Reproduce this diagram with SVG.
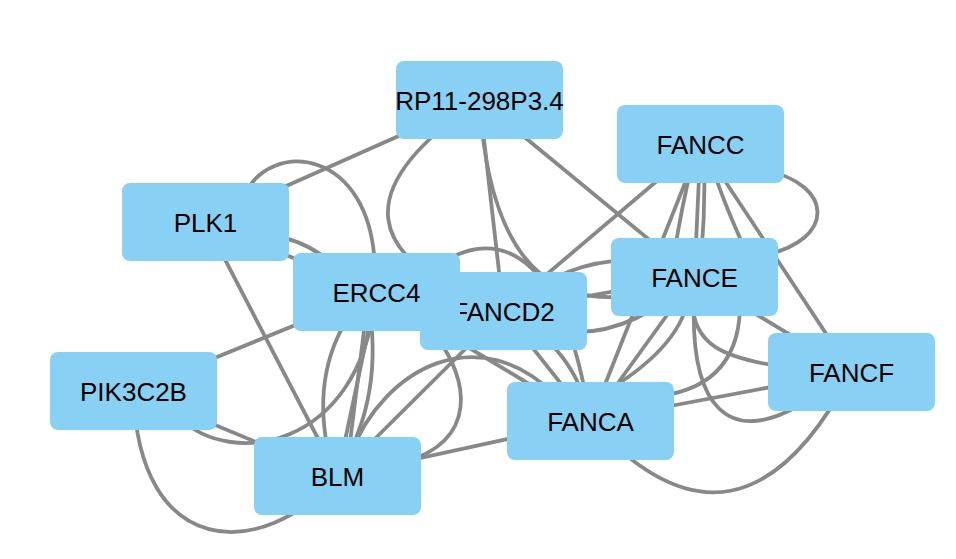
<svg xmlns="http://www.w3.org/2000/svg" width="956" height="559" viewBox="0 0 956 559">
<style>
.e{fill:none;stroke:#888888;stroke-width:3.8}
.n rect{fill:#89D0F5;stroke:none}
.n text{font-family:"Liberation Sans",Arial,sans-serif;font-size:26px;fill:#000;text-anchor:middle}
</style>
<rect width="956" height="559" fill="#ffffff"/>
<g id="edges">
<path class="e" d="M479.5,100 L205.5,222"/>
<path class="e" d="M205.5,222 L376.5,292"/>
<path class="e" d="M270,235 Q305,240 330,262"/>
<path class="e" d="M245,195 C268,140 372,145 375,270"/>
<path class="e" d="M205.5,222 L337.5,476"/>
<path class="e" d="M479.5,100 Q285,232 503.5,311"/>
<path class="e" d="M479.5,100 L503.5,311"/>
<path class="e" d="M479.5,100 Q495,360 694.5,277"/>
<path class="e" d="M479.5,100 L694.5,277"/>
<path class="e" d="M700.5,144 L503.5,311"/>
<path class="e" d="M440,265 C480,235 560,225 590,420"/>
<path class="e" d="M376.5,292 L590.5,421"/>
<path class="e" d="M350,455 C385,365 480,320 555,395"/>
<path class="e" d="M435,335 C470,380 478,440 405,462"/>
<path class="e" d="M337.5,476 L503.5,311"/>
<path class="e" d="M337.5,476 L590.5,421"/>
<path class="e" d="M376.5,292 L337.5,476"/>
<path class="e" d="M350,315 C320,360 318,410 330,460"/>
<path class="e" d="M368,300 Q385,395 340,470"/>
<path class="e" d="M366,315 L349,450"/>
<path class="e" d="M133.5,391 L376.5,292"/>
<path class="e" d="M180,418 C230,468 358,450 375,300"/>
<path class="e" d="M133.5,391 L337.5,476"/>
<path class="e" d="M133.5,391 C138,560 262,562 337.5,476"/>
<path class="e" d="M503.5,311 L590.5,421"/>
<path class="e" d="M503.5,311 Q575,345 590.5,421"/>
<path class="e" d="M503.5,311 L694.5,277"/>
<path class="e" d="M503.5,311 Q600,232 694.5,277"/>
<path class="e" d="M503.5,311 Q600,366 694.5,277"/>
<path class="e" d="M700.5,144 L590.5,421"/>
<path class="e" d="M692,165 Q682,205 674,255"/>
<path class="e" d="M700.5,144 L694.5,277"/>
<path class="e" d="M704,150 Q706,210 700,270"/>
<path class="e" d="M712,165 Q722,200 750,260"/>
<path class="e" d="M700.5,144 L851.5,372"/>
<path class="e" d="M765,170 C835,185 835,240 765,255"/>
<path class="e" d="M694.5,277 L590.5,421"/>
<path class="e" d="M688,300 Q678,350 600,395"/>
<path class="e" d="M740,300 Q742,385 660,396"/>
<path class="e" d="M694.5,277 L851.5,372"/>
<path class="e" d="M692,300 C694,345 720,358 790,368"/>
<path class="e" d="M694,300 C690,410 730,445 800,405"/>
<path class="e" d="M590.5,421 L851.5,372"/>
<path class="e" d="M590.5,421 Q740,585 851.5,372"/>
</g>
<g id="RP11-298P3.4" class="n"><rect x="396" y="61" width="167" height="78" rx="8"/><text x="479.5" y="109.5">RP11-298P3.4</text></g>
<g id="FANCC" class="n"><rect x="617" y="105" width="167" height="78" rx="8"/><text x="700.5" y="153.5">FANCC</text></g>
<g id="PLK1" class="n"><rect x="122" y="183" width="167" height="78" rx="8"/><text x="205.5" y="231.5">PLK1</text></g>
<g id="FANCE" class="n"><rect x="611" y="238" width="167" height="78" rx="8"/><text x="694.5" y="286.5">FANCE</text></g>
<g id="FANCD2" class="n"><rect x="420" y="272" width="167" height="78" rx="8"/><text x="503.5" y="320.5">FANCD2</text></g>
<g id="ERCC4" class="n"><rect x="293" y="253" width="167" height="78" rx="8"/><text x="376.5" y="301.5">ERCC4</text></g>
<g id="FANCF" class="n"><rect x="768" y="333" width="167" height="78" rx="8"/><text x="851.5" y="381.5">FANCF</text></g>
<g id="PIK3C2B" class="n"><rect x="50" y="352" width="167" height="78" rx="8"/><text x="133.5" y="400.5">PIK3C2B</text></g>
<g id="FANCA" class="n"><rect x="507" y="382" width="167" height="78" rx="8"/><text x="590.5" y="430.5">FANCA</text></g>
<g id="BLM" class="n"><rect x="254" y="437" width="167" height="78" rx="8"/><text x="337.5" y="485.5">BLM</text></g>
</svg>
